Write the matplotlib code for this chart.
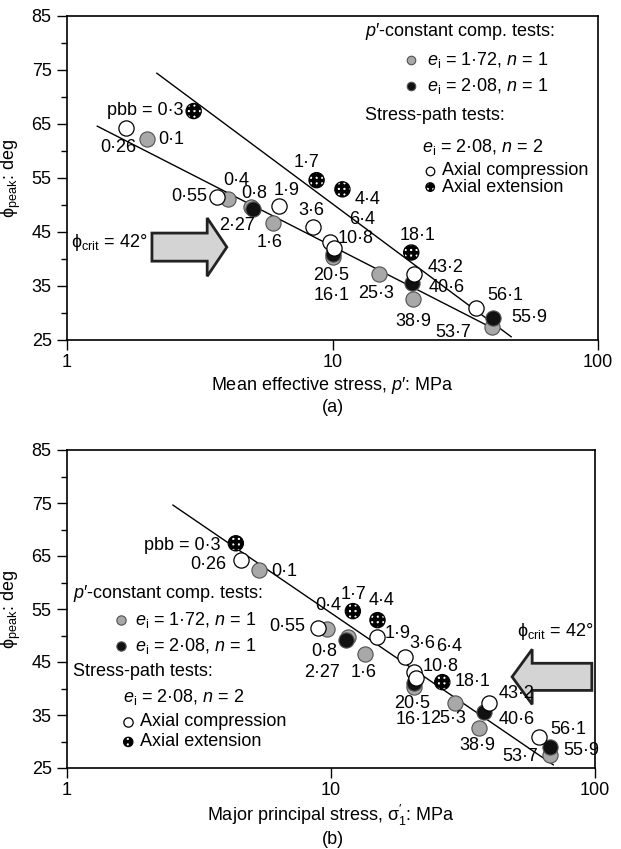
import matplotlib.pyplot as plt
from matplotlib.patches import Polygon
from matplotlib.transforms import blended_transform_factory

plt.rcParams['font.family'] = ['Liberation Sans', 'DejaVu Sans']
plt.rcParams['font.size'] = 13
plt.rcParams['mathtext.fontset'] = 'custom'
plt.rcParams['mathtext.rm'] = 'Liberation Sans'
plt.rcParams['mathtext.it'] = 'Liberation Sans:italic'
plt.rcParams['mathtext.fallback'] = 'stixsans'
plt.rcParams['hatch.linewidth'] = 2.5

# test data: pbb label, kind, p' (MPa), sigma1' (MPa), phi_peak (deg)
# g = p'-const e=1.72, b = p'-const e=2.08, o = axial compression, x = axial extension
labels = ['0·3', '0·26', '0·1', '0·55', '0·4', '0·8', '2·27', '1·9', '1·6',
          '1·7', '4·4', '3·6', '10·8', '6·4', '20·5', '16·1', '18·1', '25·3',
          '43·2', '40·6', '38·9', '56·1', '55·9', '53·7']
kinds = ['x', 'o', 'g', 'o', 'g', 'b', 'g', 'o', 'g',
         'x', 'x', 'o', 'o', 'o', 'b', 'g', 'x', 'g',
         'o', 'b', 'g', 'o', 'b', 'g']
p_mean = [3.0, 1.67, 2.0, 3.66, 4.03, 5.0, 4.95, 6.27, 5.95,
          8.71, 10.9, 8.41, 9.75, 10.1, 10.0, 10.0, 19.8, 15.0,
          20.3, 20.0, 20.1, 34.8, 40.3, 40.0]
sigma1 = [4.36, 4.55, 5.36, 8.94, 9.66, 11.4, 11.6, 14.9, 13.4,
          12.1, 15.0, 19.1, 20.7, 20.9, 20.7, 20.7, 26.4, 29.5,
          39.6, 37.9, 36.3, 61.6, 67.7, 67.7]
phi_peak = [67.4, 64.3, 62.3, 51.5, 51.2, 49.2, 49.7, 49.8, 46.6,
            54.6, 52.9, 45.9, 43.1, 42.0, 41.0, 40.3, 41.2, 37.2,
            37.3, 35.6, 32.6, 30.9, 29.0, 27.4]

# fitted trend lines
line_a1_x = [1.30, 37.9]
line_a1_y = [64.6, 27.8]
line_a2_x = [2.18, 47.1]
line_a2_y = [74.4, 25.6]
line_b_x = [2.52, 69.5]
line_b_y = [74.6, 25.6]
phi_crit = 42

# label offsets in pixels (dx right, dy down), per panel
off_a = [(-10, -1), (-8, 20), (24, 1), (-9, 0), (9, -18), (2, -16), (-14, 19), (8, -16), (-3, 19),
         (-10, -18), (25, 10), (-1, -17), (26, -4), (28, -29), (-1, 22), (-1, 38), (6, -17), (-3, 19),
         (31, -6), (34, 5), (0, 23), (29, -13), (36, -1), (-39, 5)]
ha_a = ['right', 'center', 'center', 'right'] + ['center'] * 20
off_b = [(-15, 2), (-32, 5), (25, 1), (-13, -1), (1, -24), (-22, 12), (-26, 35), (21, -3), (-1, 19),
         (1, -17), (4, -20), (17, -14), (26, -6), (34, -31), (-2, 20), (-1, 33), (30, -1), (-7, 15),
         (28, -9), (33, 8), (-1, 18), (29, -7), (31, 4), (-30, 1)]
ha_b = ['right', 'center', 'center', 'right'] + ['center'] * 20

styles = {
    'g': dict(facecolor='#a8a8a8', edgecolor='#505050', linewidths=0.8, zorder=3),
    'b': dict(facecolor='#111111', edgecolor='#555555', linewidths=0.8, zorder=4),
    'o': dict(facecolor='white', edgecolor='black', linewidths=0.9, zorder=5),
    'x': dict(facecolor='white', edgecolor='black', linewidths=0.9, hatch='+++', zorder=6),
}


def setup(ax, xlabel):
    ax.set_xscale('log')
    ax.set_xlim(1, 100)
    ax.set_ylim(25, 85)
    ax.set_xticks([1, 10, 100])
    ax.set_xticklabels(['1', '10', '100'])
    ax.xaxis.set_minor_locator(plt.NullLocator())
    ax.set_yticks(range(25, 86, 10))
    ax.set_yticks(range(30, 85, 10), minor=True)
    ax.tick_params(which='major', length=7, width=1, pad=4, direction='out')
    ax.tick_params(axis='x', which='major', pad=3)
    ax.tick_params(which='minor', length=4, width=1, direction='out')
    for s in ax.spines.values():
        s.set_linewidth(1.2)
    ax.set_xlabel(xlabel, labelpad=3)
    ax.set_ylabel(r'$\mathrm{\phi}_{\mathrm{peak}}$: deg', labelpad=6)


def points(ax, xs, offs, has):
    for k in ['g', 'b', 'o', 'x']:
        xx = [x for x, kk in zip(xs, kinds) if kk == k]
        yy = [y for y, kk in zip(phi_peak, kinds) if kk == k]
        ax.scatter(xx, yy, s=120, **styles[k])
    for x, y, lab, (dx, dy), ha in zip(xs, phi_peak, labels, offs, has):
        if lab == '0·3':
            lab = 'pbb = 0·3'
        ax.annotate(lab, (x, y), xytext=(dx * 0.72, -dy * 0.72), textcoords='offset points',
                    ha=ha, va='center', zorder=7)


def arrow(ax, tail, base, tip, y, sh, hh):
    tr = blended_transform_factory(ax.transAxes, ax.transData)
    pts = [(tail, y - sh), (base, y - sh), (base, y - hh), (tip, y),
           (base, y + hh), (base, y + sh), (tail, y + sh)]
    ax.add_patch(Polygon(pts, closed=True, transform=tr, facecolor='#d4d4d4',
                         edgecolor='#222222', linewidth=2, zorder=2))


def legend(ax, x0, x1, x2, xm1, xm2, ys, ms):
    # ys: title1, gray, black, title2, e line, comp, ext
    kw = dict(transform=ax.transAxes, va='center', ha='left')
    ax.text(x0, ys[0], r"$\mathit{p}$′-constant comp. tests:", **kw)
    ax.scatter([xm1], [ys[1]], s=ms, transform=ax.transAxes, clip_on=False, **styles['g'])
    ax.text(x1, ys[1], r'$\mathit{e}_{\mathrm{i}}$ = 1·72, $\mathit{n}$ = 1', **kw)
    ax.scatter([xm1], [ys[2]], s=ms, transform=ax.transAxes, clip_on=False, **styles['b'])
    ax.text(x1, ys[2], r'$\mathit{e}_{\mathrm{i}}$ = 2·08, $\mathit{n}$ = 1', **kw)
    ax.text(x0, ys[3], 'Stress-path tests:', **kw)
    ax.text(x2, ys[4], r'$\mathit{e}_{\mathrm{i}}$ = 2·08, $\mathit{n}$ = 2', **kw)
    ax.scatter([xm2], [ys[5]], s=ms, transform=ax.transAxes, clip_on=False, **styles['o'])
    ax.text(xm2 + 0.022, ys[5], 'Axial compression', **kw)
    ax.scatter([xm2], [ys[6]], s=ms, transform=ax.transAxes, clip_on=False, **styles['x'])
    ax.text(xm2 + 0.022, ys[6], 'Axial extension', **kw)


fig = plt.figure(figsize=(6.21, 8.49), dpi=100)

ax1 = fig.add_axes([67 / 621, 1 - 340 / 849, 531 / 621, 324 / 849])
setup(ax1, r"Mean effective stress, $\mathit{p}$′: MPa")
ax1.plot(line_a1_x, line_a1_y, color='black', lw=1, zorder=1)
ax1.plot(line_a2_x, line_a2_y, color='black', lw=1, zorder=1)
points(ax1, p_mean, off_a, ha_a)
arrow(ax1, 0.160, 0.264, 0.301, phi_crit + 0.2, 2.6, 5.4)
ax1.text(0.008, phi_crit + 1, r'$\mathrm{\phi}_{\mathrm{crit}}$ = %d°' % phi_crit,
         transform=blended_transform_factory(ax1.transAxes, ax1.transData), ha='left', va='center')
legend(ax1, 0.561, 0.678, 0.669, 0.648, 0.684,
       [0.951, 0.864, 0.784, 0.694, 0.596, 0.522, 0.472], 38)
fig.text(0.536, 1 - 408 / 849, '(a)', ha='center', va='center')

ax2 = fig.add_axes([67 / 621, 1 - 768 / 849, 528 / 621, 318 / 849])
setup(ax2, r"Major principal stress, $\mathrm{\sigma}_1^{\prime}$: MPa")
ax2.plot(line_b_x, line_b_y, color='black', lw=1, zorder=1)
points(ax2, sigma1, off_b, ha_b)
arrow(ax2, 0.994, 0.881, 0.843, phi_crit + 0.2, 2.56, 5.2)
ax2.text(0.996, 50.8, r'$\mathrm{\phi}_{\mathrm{crit}}$ = %d°' % phi_crit,
         transform=blended_transform_factory(ax2.transAxes, ax2.transData), ha='right', va='center')
legend(ax2, 0.011, 0.129, 0.106, 0.102, 0.116,
       [0.550, 0.465, 0.384, 0.305, 0.223, 0.145, 0.082], 45)
fig.text(0.536, 1 - 839 / 849, '(b)', ha='center', va='center')

fig.savefig('out.png', dpi=100)
